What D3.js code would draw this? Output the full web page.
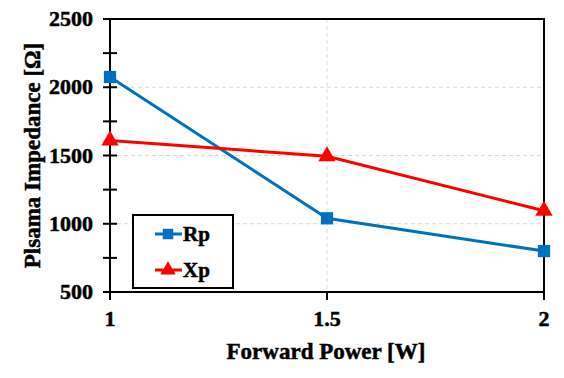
<!DOCTYPE html>
<html><head><meta charset="utf-8">
<script src="https://cdn.jsdelivr.net/npm/d3@7"></script>
<style>body{margin:0;background:#fff}svg{display:block}
svg text{font-family:"Liberation Serif","Times New Roman",Times,serif;font-weight:bold;stroke:#000;stroke-width:0.5px}</style>
</head><body>
<svg id="c" width="564" height="378"></svg>
<script>
const xValues = [1, 1.5, 2];
const rpValues = [2075, 1040, 800];
const xpValues = [1610, 1495, 1095];
const yTicks = [500, 1000, 1500, 2000, 2500];
const xTicks = [1, 1.5, 2];
const seriesNames = ["Rp", "Xp"];

const svg = d3.select("#c");
const L = 110, R = 544, T = 19, B = 292;
const x = d3.scaleLinear().domain([1, 2]).range([L, R]);
const y = d3.scaleLinear().domain([500, 2500]).range([B, T]);

// grid
svg.append("g").selectAll("line").data([1000, 1500, 2000]).join("line")
  .attr("x1", L).attr("x2", R).attr("y1", d => y(d)).attr("y2", d => y(d))
  .attr("stroke", "#d9d9d9").attr("stroke-dasharray", "4,3").attr("stroke-width", 1);
svg.append("g").selectAll("line").data([1.5]).join("line")
  .attr("x1", d => x(d)).attr("x2", d => x(d)).attr("y1", T).attr("y2", B)
  .attr("stroke", "#d9d9d9").attr("stroke-dasharray", "4,3").attr("stroke-width", 1);

// frame
svg.append("rect").attr("x", L).attr("y", T).attr("width", R - L).attr("height", B - T)
  .attr("fill", "none").attr("stroke", "#000").attr("stroke-width", 2);

// y axis ticks (crossing)
const yMinor = d3.range(500, 2501, 250);
svg.append("g").selectAll("line").data(yMinor).join("line")
  .attr("x1", L - 7).attr("x2", L + 7).attr("y1", d => y(d)).attr("y2", d => y(d))
  .attr("stroke", "#000").attr("stroke-width", 2);
svg.append("g").selectAll("text").data(yTicks).join("text")
  .attr("x", 93).attr("y", d => y(d) + 7).attr("text-anchor", "end")
  .attr("font-size", 22)
  .text(d => d);

// x axis ticks
svg.append("g").selectAll("line").data(xTicks).join("line")
  .attr("x1", d => x(d)).attr("x2", d => x(d)).attr("y1", B).attr("y2", B + 8)
  .attr("stroke", "#000").attr("stroke-width", 2);
svg.append("g").selectAll("text").data(xTicks).join("text")
  .attr("x", d => x(d)).attr("y", 326).attr("text-anchor", "middle")
  .attr("font-size", 22)
  .text(d => d);

// titles
svg.append("text").attr("x", 326).attr("y", 359).attr("text-anchor", "middle")
  .attr("font-size", 23)
  .text("Forward Power [W]");
svg.append("text").attr("transform", `translate(40,${(T + B) / 2}) rotate(-90)`)
  .attr("text-anchor", "middle")
  .attr("font-size", 23)
  .text("Plsama Impedance [Ω]");

// series
const series = [
  {name: seriesNames[0], vals: rpValues, color: "#0070c0", sym: d3.symbolSquare},
  {name: seriesNames[1], vals: xpValues, color: "#ff0000", sym: d3.symbolTriangle}
];
const line = d3.line().x(d => x(d[0])).y(d => y(d[1]));
series.forEach(s => {
  const pts = xValues.map((v, i) => [v, s.vals[i]]);
  svg.append("path").attr("d", line(pts)).attr("fill", "none")
    .attr("stroke", s.color).attr("stroke-width", 3);
  svg.append("g").selectAll("path").data(pts).join("path")
    .attr("transform", d => `translate(${x(d[0])},${y(d[1])})`)
    .attr("d", d3.symbol().type(s.sym).size(s.sym === d3.symbolSquare ? 150 : 130))
    .attr("fill", s.color);
});

// legend
const lg = svg.append("g");
lg.append("rect").attr("x", 133).attr("y", 215).attr("width", 100).attr("height", 73)
  .attr("fill", "#fff").attr("stroke", "#000").attr("stroke-width", 2);
series.forEach((s, i) => {
  const cy = 234 + i * 36;
  lg.append("line").attr("x1", 155).attr("x2", 182).attr("y1", cy).attr("y2", cy)
    .attr("stroke", s.color).attr("stroke-width", 3);
  lg.append("path").attr("transform", `translate(168,${cy})`)
    .attr("d", d3.symbol().type(s.sym).size(s.sym === d3.symbolSquare ? 110 : 100))
    .attr("fill", s.color);
  lg.append("text").attr("x", 183).attr("y", cy + 7)
    .attr("font-size", 21)
    .text(s.name);
});
</script>
</body></html>
